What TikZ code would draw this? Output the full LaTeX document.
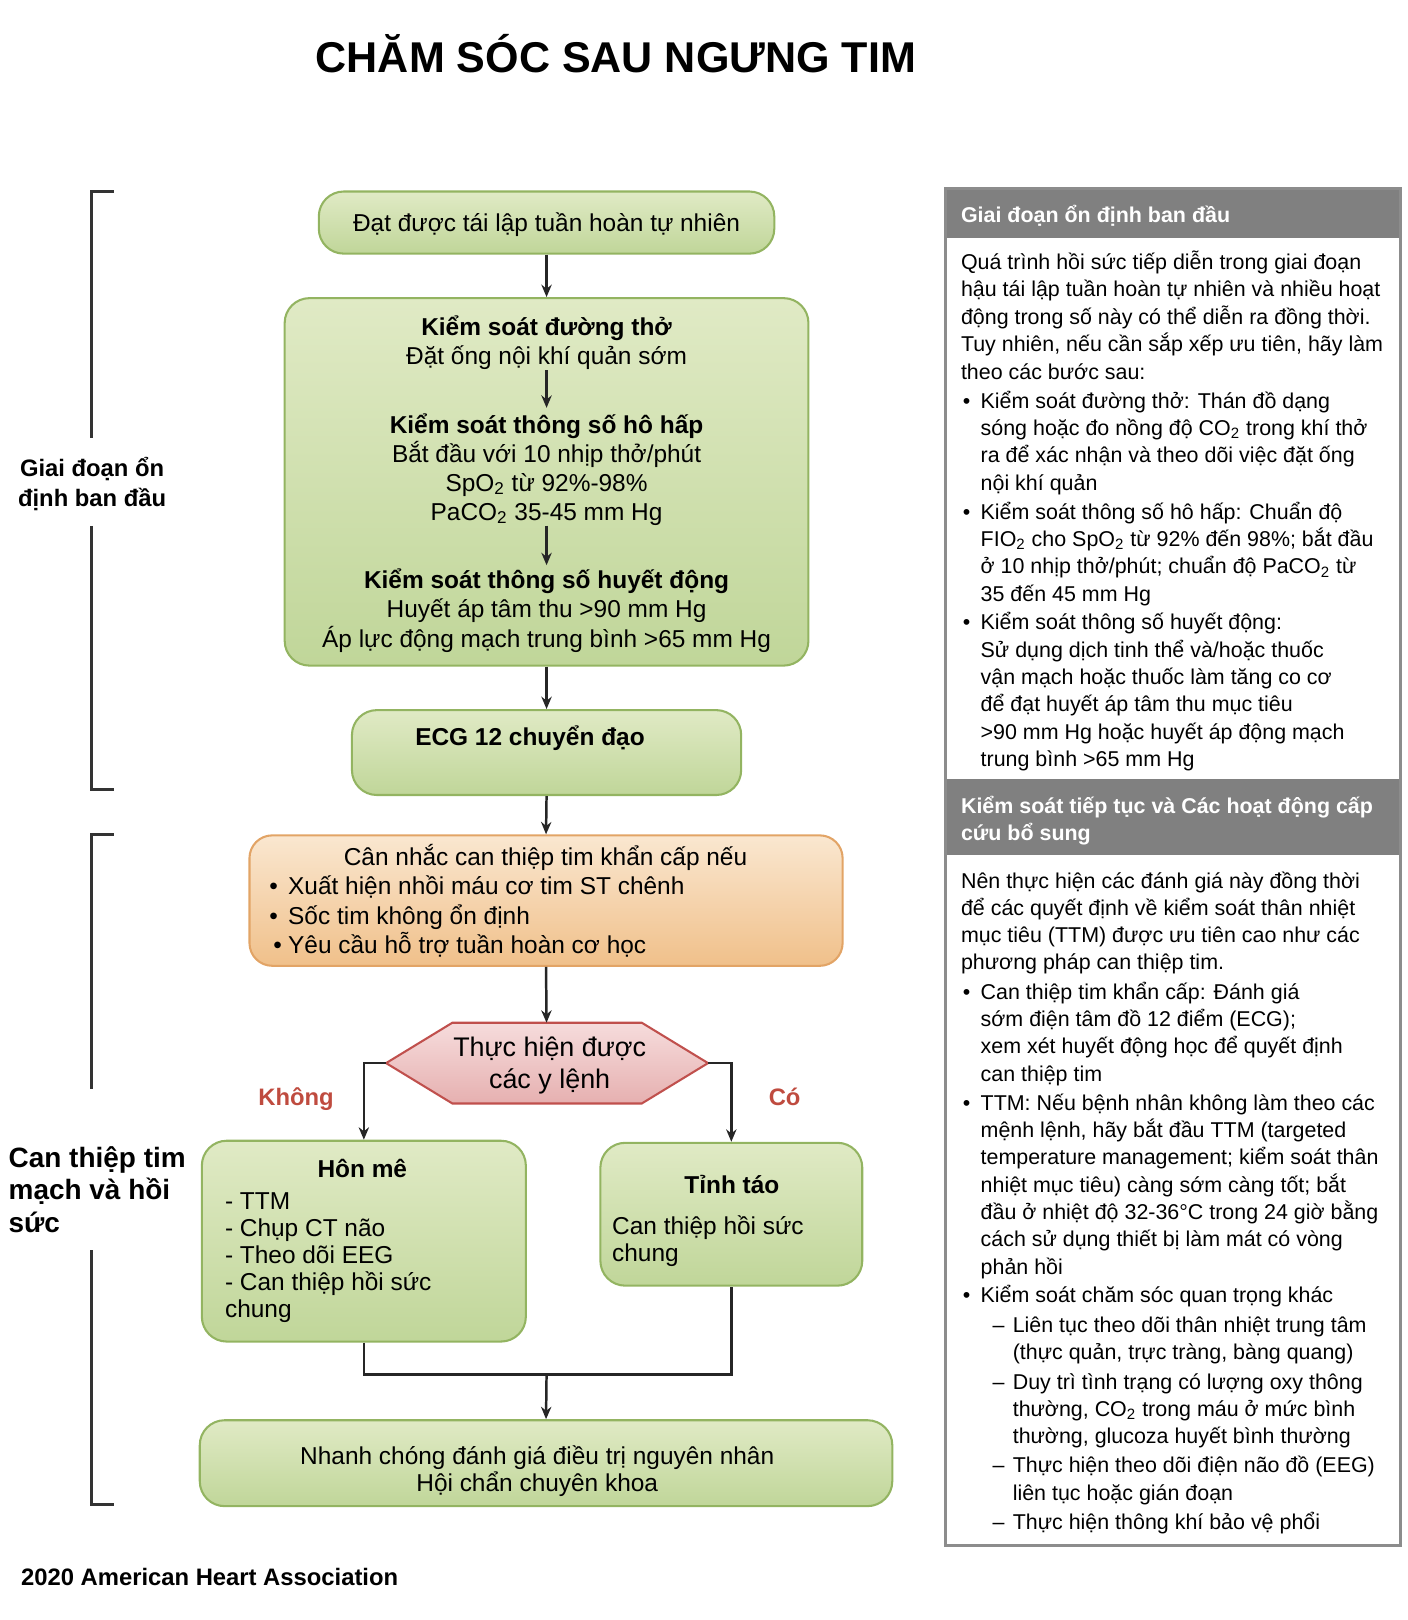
\documentclass[tikz,border=0pt]{standalone}
\usepackage{fontspec}
\setmainfont{Liberation Sans}
\usetikzlibrary{arrows.meta}
\definecolor{gtop}{HTML}{E0EAC5}
\definecolor{gbot}{HTML}{C0D699}
\definecolor{gbrd}{HTML}{93B461}
\definecolor{otop}{HTML}{FAE7D0}
\definecolor{obot}{HTML}{F0C08A}
\definecolor{obrd}{HTML}{E2A466}
\definecolor{rtop}{HTML}{F6DCDC}
\definecolor{rbot}{HTML}{E6B0B0}
\definecolor{rbrd}{HTML}{C0504D}
\definecolor{lblred}{HTML}{BF4B3F}
\definecolor{arrc}{HTML}{262626}
\definecolor{hdr}{HTML}{808080}
\definecolor{pbrd}{HTML}{8C8C8C}
\definecolor{brk}{HTML}{333333}
\newcommand\tstrut{\rule{0pt}{14pt}}
\begin{document}
\begin{tikzpicture}[x=0.5pt,y=-0.5pt,
  gbox/.style={draw=gbrd,line width=1pt,top color=gtop,bottom color=gbot,rounded corners=12pt,inner sep=0pt},
  obox/.style={draw=obrd,line width=1pt,top color=otop,bottom color=obot,rounded corners=11pt,inner sep=0pt},
  arr/.style={draw=arrc,line width=1.2pt,-{Stealth[length=6pt,width=5pt]}},
  link/.style={draw=arrc,line width=1.2pt},
  brack/.style={draw=brk,line width=1.5pt},
  txm/.style={inner sep=0pt,font=\fontsize{11.8}{14}\selectfont},
  txmc/.style={txm,anchor=north,align=center},
  txml/.style={txm,anchor=north west,align=left},
  txp/.style={inner sep=0pt,anchor=north west,align=left,font=\fontsize{10.35}{13.2}\selectfont},
  txph/.style={txp,text=white,font=\fontsize{10.35}{13.5}\selectfont\bfseries},
  lbl/.style={inner sep=0pt,anchor=north,text=lblred,font=\fontsize{11.5}{14}\selectfont\bfseries},
]
\useasboundingbox (0,0) rectangle (1360,1565);

% title
\node[anchor=base,inner sep=0pt,font=\fontsize{20.8}{24}\selectfont\bfseries] (title) at (595,70) {CHĂM SÓC SAU NGƯNG TIM};

% brackets
\draw[brack] (110,185) -- (88,185) -- (88,423);
\draw[brack] (88,508) -- (88,763) -- (110,763);
\draw[brack] (110,806) -- (88,806) -- (88,1052);
\draw[brack] (88,1208) -- (88,1453) -- (110,1453);
\node[inner sep=0pt,anchor=north,align=center,font=\fontsize{11.5}{14.5}\selectfont\bfseries] (lab1) at (89,432) {\tstrut Giai đoạn ổn\\định ban đầu};
\node[inner sep=0pt,anchor=north west,align=left,font=\fontsize{13.5}{15.75}\selectfont\bfseries] (lab2) at (8,1099) {\tstrut Can thiệp tim\\mạch và hồi\\sức};

% boxes
\node[gbox,minimum width=220pt,minimum height=30pt] (b1) at (528,215) {};
\node[gbox,minimum width=253pt,minimum height=177.5pt] (b2) at (528,465.5) {};
\node[gbox,minimum width=188pt,minimum height=41pt] (b3) at (528,727) {};
\node[obox,minimum width=286.5pt,minimum height=63pt] (b4) at (527.5,870) {};
\path[draw=rbrd,line width=1pt,top color=rtop,bottom color=rbot] (373,1027) -- (437,988) -- (620,988) -- (684,1027) -- (620,1066) -- (437,1066) -- cycle;
\coordinate (hexT) at (528,988);
\coordinate (hexL) at (373,1027);
\coordinate (hexR) at (684,1027);
\node[gbox,minimum width=156.5pt,minimum height=97pt] (b5) at (351.5,1199) {};
\node[gbox,minimum width=126.5pt,minimum height=69pt] (b6) at (706.5,1173) {};
\node[gbox,minimum width=334.5pt,minimum height=41.5pt] (b7) at (527.5,1413.5) {};

% box texts
\node[txmc] (t1) at (528,195) {\tstrut Đạt được tái lập tuần hoàn tự nhiên};
\node[txmc] (tA) at (528,296) {\tstrut\textbf{Kiểm soát đường thở}\\Đặt ống nội khí quản sớm};
\node[txmc] (tB) at (528,390) {\tstrut\textbf{Kiểm soát thông số hô hấp}\\Bắt đầu với 10 nhịp thở/phút\\SpO\textsubscript{2} từ 92\%-98\%\\PaCO\textsubscript{2} 35-45 mm Hg};
\node[txmc,font=\fontsize{11.8}{14.25}\selectfont] (tC) at (528,540) {\tstrut\textbf{Kiểm soát thông số huyết động}\\Huyết áp tâm thu >90 mm Hg\\Áp lực động mạch trung bình >65 mm Hg};
\node[txmc] (t3) at (512,692) {\tstrut\textbf{ECG 12 chuyển đạo}};
\node[txmc] (t4a) at (527,808) {\tstrut Cân nhắc can thiệp tim khẩn cấp nếu};
\node[txml,font=\fontsize{11.8}{14.25}\selectfont] (t4b) at (278,836) {\tstrut\llap{•\hspace{5pt}}Xuất hiện nhồi máu cơ tim ST chênh\\\llap{•\hspace{5pt}}Sốc tim không ổn định\\\llap{•\hspace{3pt}}Yêu cầu hỗ trợ tuần hoàn cơ học};
\node[inner sep=0pt,anchor=north,align=center,font=\fontsize{13}{15.5}\selectfont] (hex) at (531,992) {\tstrut Thực hiện được\\các y lệnh};
\node[lbl] (no) at (286,1040) {\tstrut Không};
\node[lbl] (yes) at (758,1040) {\tstrut Có};
\node[txmc] (t5a) at (350,1109) {\tstrut\textbf{Hôn mê}};
\node[txml,font=\fontsize{11.8}{13}\selectfont] (t5b) at (217,1140) {\tstrut - TTM\\- Chụp CT não\\- Theo dõi EEG\\- Can thiệp hồi sức\\chung};
\node[txmc] (t6a) at (707,1125) {\tstrut\textbf{Tỉnh táo}};
\node[txml,font=\fontsize{11.8}{13}\selectfont] (t6b) at (591,1164) {\tstrut Can thiệp hồi sức\\chung};
\node[txmc,font=\fontsize{11.8}{13}\selectfont] (t7) at (519,1386) {\tstrut Nhanh chóng đánh giá điều trị nguyên nhân\\Hội chẩn chuyên khoa};

% connectors
\draw[arr] (b1.south) -- (b2.north);
\draw[arr,shorten >=-2pt] (tA.south) -- (tB.north);
\draw[arr,shorten >=-3pt] (tB.south) -- (tC.north);
\draw[arr] (b2.south) -- (b3.north);
\draw[arr] (b3.south) -- (b4.north);
\draw[arr] (b4.south) -- (hexT);
\draw[arr] (hexL) -| (b5.north);
\draw[arr] (hexR) -| (b6.north);
\coordinate (mrg) at (528,1328);
\draw[link] (b5.south) |- (mrg) -| (b6.south);
\draw[arr] (mrg) -- (b7.north);

% footer
\node[inner sep=0pt,anchor=north west,font=\fontsize{11.5}{14}\selectfont\bfseries] (foot) at (20,1503) {\tstrut 2020 American Heart Association};

% right panel
\fill[hdr] (913,182) rectangle (1353,230);
\fill[hdr] (913,753) rectangle (1353,826);
\draw[pbrd,line width=1.5pt] (913,182) rectangle (1353,1493);
\node[txph] (p1h) at (928,187) {\tstrut Giai đoạn ổn định ban đầu};
\node[txph] (p2h) at (928,757) {\tstrut Kiểm soát tiếp tục và Các hoạt động cấp\\cứu bổ sung};

\node[txp,font=\fontsize{10.35}{13.25}\selectfont] (p1a) at (928,232) {\tstrut Quá trình hồi sức tiếp diễn trong giai đoạn\\hậu tái lập tuần hoàn tự nhiên và nhiều hoạt\\động trong số này có thể diễn ra đồng thời.\\Tuy nhiên, nếu cần sắp xếp ưu tiên, hãy làm\\theo các bước sau:};
\node[txp] (p1b) at (947,366) {\tstrut\llap{•\hspace{5pt}}Kiểm soát đường thở: Thán đồ dạng\\sóng hoặc đo nồng độ CO\textsubscript{2} trong khí thở\\ra để xác nhận và theo dõi việc đặt ống\\nội khí quản};
\node[txp] (p1c) at (947,473) {\tstrut\llap{•\hspace{5pt}}Kiểm soát thông số hô hấp: Chuẩn độ\\FIO\textsubscript{2} cho SpO\textsubscript{2} từ 92\% đến 98\%; bắt đầu\\ở 10 nhịp thở/phút; chuẩn độ PaCO\textsubscript{2} từ\\35 đến 45 mm Hg};
\node[txp] (p1d) at (947,580) {\tstrut\llap{•\hspace{5pt}}Kiểm soát thông số huyết động:\\Sử dụng dịch tinh thể và/hoặc thuốc\\vận mạch hoặc thuốc làm tăng co cơ\\để đạt huyết áp tâm thu mục tiêu\\>90 mm Hg hoặc huyết áp động mạch\\trung bình >65 mm Hg};

\node[txp,font=\fontsize{10.35}{13}\selectfont] (p2a) at (928,830) {\tstrut Nên thực hiện các đánh giá này đồng thời\\để các quyết định về kiểm soát thân nhiệt\\mục tiêu (TTM) được ưu tiên cao như các\\phương pháp can thiệp tim.};
\node[txp] (p2b) at (947,937) {\tstrut\llap{•\hspace{5pt}}Can thiệp tim khẩn cấp: Đánh giá\\sớm điện tâm đồ 12 điểm (ECG);\\xem xét huyết động học để quyết định\\can thiệp tim};
\node[txp] (p2c) at (947,1044) {\tstrut\llap{•\hspace{5pt}}TTM: Nếu bệnh nhân không làm theo các\\mệnh lệnh, hãy bắt đầu TTM (targeted\\temperature management; kiểm soát thân\\nhiệt mục tiêu) càng sớm càng tốt; bắt\\đầu ở nhiệt độ 32-36°C trong 24 giờ bằng\\cách sử dụng thiết bị làm mát có vòng\\phản hồi};
\node[txp] (p2d) at (947,1230) {\tstrut\llap{•\hspace{5pt}}Kiểm soát chăm sóc quan trọng khác};
\node[txp,font=\fontsize{10.35}{13}\selectfont] (p2e) at (978,1259) {\tstrut\llap{–\hspace{4pt}}Liên tục theo dõi thân nhiệt trung tâm\\(thực quản, trực tràng, bàng quang)};
\node[txp,font=\fontsize{10.35}{13}\selectfont] (p2f) at (978,1314) {\tstrut\llap{–\hspace{4pt}}Duy trì tình trạng có lượng oxy thông\\thường, CO\textsubscript{2} trong máu ở mức bình\\thường, glucoza huyết bình thường};
\node[txp,font=\fontsize{10.35}{13.5}\selectfont] (p2g) at (978,1394) {\tstrut\llap{–\hspace{4pt}}Thực hiện theo dõi điện não đồ (EEG)\\liên tục hoặc gián đoạn};
\node[txp] (p2i) at (978,1449) {\tstrut\llap{–\hspace{4pt}}Thực hiện thông khí bảo vệ phổi};
\end{tikzpicture}
\end{document}
